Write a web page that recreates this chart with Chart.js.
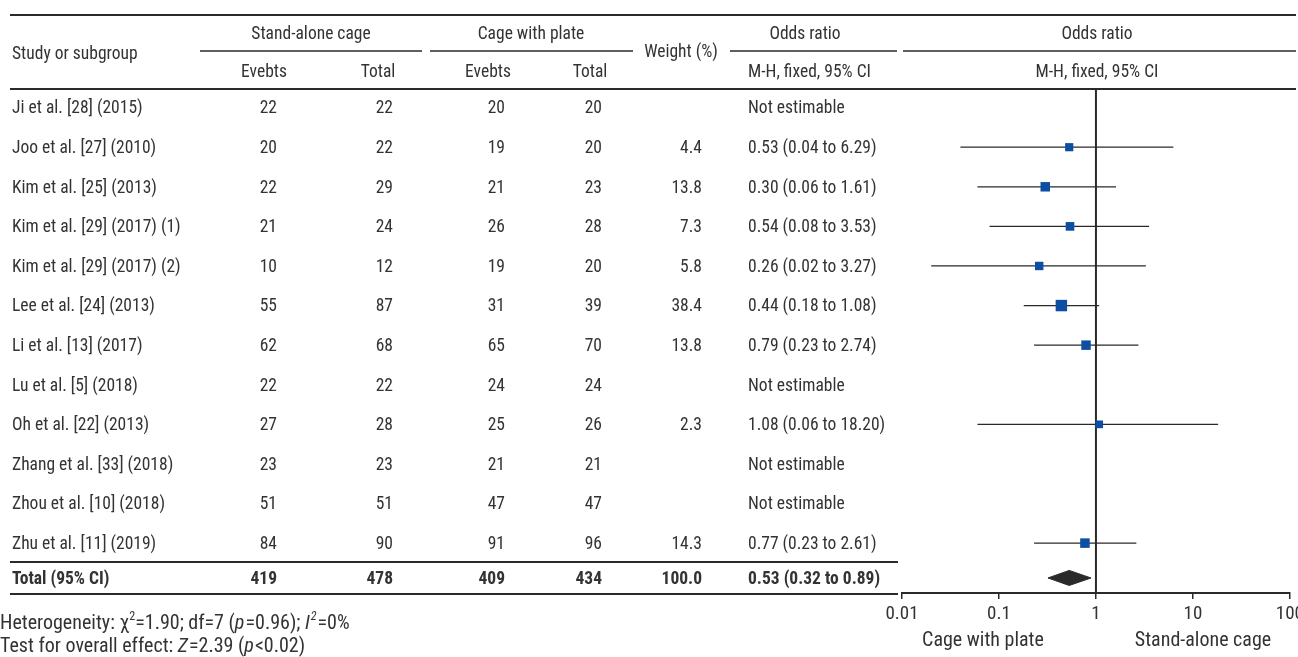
<!DOCTYPE html>
<html>
<head>
<meta charset="utf-8">
<script src="https://cdn.jsdelivr.net/npm/chart.js@4.4.1/dist/chart.umd.min.js"></script>
<style>
  html, body { margin: 0; padding: 0; background: #fff; }
</style>
</head>
<body>
<canvas id="forest" width="1298" height="657"></canvas>
<script>
// Study rows
const studies = [
  'Ji et al. [28] (2015)', 'Joo et al. [27] (2010)', 'Kim et al. [25] (2013)',
  'Kim et al. [29] (2017) (1)', 'Kim et al. [29] (2017) (2)', 'Lee et al. [24] (2013)',
  'Li et al. [13] (2017)', 'Lu et al. [5] (2018)', 'Oh et al. [22] (2013)',
  'Zhang et al. [33] (2018)', 'Zhou et al. [10] (2018)', 'Zhu et al. [11] (2019)'
];
const saEvents = [22, 20, 22, 21, 10, 55, 62, 22, 27, 23, 51, 84];
const saTotal  = [22, 22, 29, 24, 12, 87, 68, 22, 28, 23, 51, 90];
const cpEvents = [20, 19, 21, 26, 19, 31, 65, 24, 25, 21, 47, 91];
const cpTotal  = [20, 20, 23, 28, 20, 39, 70, 24, 26, 21, 47, 96];
const weights  = [null, 4.4, 13.8, 7.3, 5.8, 38.4, 13.8, null, 2.3, null, null, 14.3];
const oddsRatio = [null, 0.53, 0.30, 0.54, 0.26, 0.44, 0.79, null, 1.08, null, null, 0.77];
const ciLow     = [null, 0.04, 0.06, 0.08, 0.02, 0.18, 0.23, null, 0.06, null, null, 0.23];
const ciHigh    = [null, 6.29, 1.61, 3.53, 3.27, 1.08, 2.74, null, 18.20, null, null, 2.61];

// Pooled result
const totalLabel = 'Total (95% CI)';
const totalCounts = [419, 478, 409, 434];
const totalWeight = 100.0;
const totalOR = [0.53, 0.32, 0.89]; // estimate, low, high

// Axis
const tickValues = [0.01, 0.1, 1, 10, 100];
const tickLabels = ['0.01', '0.1', '1', '10', '100'];
const favourLabels = ['Cage with plate', 'Stand-alone cage'];

// layout of the row scale
const Y_MIN = -0.47;
const Y_MAX = 12.26;
const TOTAL_ROW = 11.88;

const FONT = "'Liberation Sans Narrow', 'Roboto Condensed', 'Arial Narrow', Roboto, sans-serif";
const SIZE = 17.5;
const INK = '#2a2a2a';
const TXT = '#333333';
const BLUE = '#0d4ea3';

// CI whiskers as one broken line
const ciData = [];
oddsRatio.forEach((v, i) => {
  if (v === null) return;
  ciData.push({ x: ciLow[i], y: i }, { x: ciHigh[i], y: i }, { x: ciHigh[i], y: null });
});

const squareData = [];
const squareRadius = [];
oddsRatio.forEach((v, i) => {
  if (v === null) return;
  squareData.push({ x: v, y: i });
  const side = 6.5 + 0.8 * Math.sqrt(weights[i]);
  squareRadius.push(side / Math.SQRT2);
});

const dh = 0.19;
const diamondData = [
  { x: totalOR[1], y: TOTAL_ROW },
  { x: totalOR[0], y: TOTAL_ROW - dh },
  { x: totalOR[2], y: TOTAL_ROW },
  { x: totalOR[0], y: TOTAL_ROW + dh },
  { x: totalOR[1], y: TOTAL_ROW }
];

function fmtOR(v, lo, hi) {
  return v.toFixed(2) + ' (' + lo.toFixed(2) + ' to ' + hi.toFixed(2) + ')';
}

// draws the table, rules and footnotes around the plot
const tablePlugin = {
  id: 'table',
  afterDraw(chart) {
    const ctx = chart.ctx;
    const ys = chart.scales.y;
    ctx.save();
    ctx.fillStyle = TXT;
    ctx.strokeStyle = INK;
    ctx.textBaseline = 'middle';

    const text = (s, x, y, align, bold, size) => {
      ctx.font = (bold ? 'bold ' : '') + (size || SIZE) + 'px ' + FONT;
      ctx.textAlign = align || 'left';
      ctx.fillText(s, x, y + 1.5);
    };
    const rule = (x1, x2, y, w) => {
      ctx.lineWidth = w;
      ctx.beginPath();
      ctx.moveTo(x1, y);
      ctx.lineTo(x2, y);
      ctx.stroke();
    };

    // header
    rule(10, 1296, 15, 2);
    text('Study or subgroup', 12, 53);
    text('Stand-alone cage', 311, 33, 'center');
    rule(200, 422, 51, 1.3);
    text('Cage with plate', 531, 33, 'center');
    rule(430, 633, 51, 1.3);
    text('Weight (%)', 681, 51, 'center');
    text('Odds ratio', 805, 33, 'center');
    rule(730, 897, 51, 1.3);
    text('Odds ratio', 1097, 33, 'center');
    rule(903, 1296, 51, 1.3);
    text('Evebts', 264, 71, 'center');
    text('Total', 378, 71, 'center');
    text('Evebts', 488, 71, 'center');
    text('Total', 590, 71, 'center');
    text('M-H, fixed, 95% CI', 748, 71);
    text('M-H, fixed, 95% CI', 1097, 71, 'center');
    rule(10, 1296, 89, 2);

    // study rows
    studies.forEach((name, i) => {
      const y = ys.getPixelForValue(i);
      text(name, 12, y);
      text(String(saEvents[i]), 277, y, 'right');
      text(String(saTotal[i]), 393, y, 'right');
      text(String(cpEvents[i]), 505, y, 'right');
      text(String(cpTotal[i]), 602, y, 'right');
      if (weights[i] !== null) {
        text(weights[i].toFixed(1), 702, y, 'right');
        text(fmtOR(oddsRatio[i], ciLow[i], ciHigh[i]), 748, y);
      } else {
        text('Not estimable', 748, y);
      }
    });

    // total row
    const ty = ys.getPixelForValue(TOTAL_ROW);
    rule(10, 898, 562, 2);
    text(totalLabel, 12, ty, 'left', true);
    text(String(totalCounts[0]), 277, ty, 'right', true);
    text(String(totalCounts[1]), 393, ty, 'right', true);
    text(String(totalCounts[2]), 505, ty, 'right', true);
    text(String(totalCounts[3]), 602, ty, 'right', true);
    text(totalWeight.toFixed(1), 702, ty, 'right', true);
    text(fmtOR(totalOR[0], totalOR[1], totalOR[2]), 748, ty, 'left', true);
    rule(10, 898, 594, 2);

    // favours labels
    text(favourLabels[0], 983, 639, 'center', false, 20);
    text(favourLabels[1], 1203, 639, 'center', false, 20);

    // footnotes with italics and superscripts
    const runs = (parts, x, y) => {
      ctx.textAlign = 'left';
      parts.forEach(p => {
        const size = p.sup ? 12 : 20;
        ctx.font = (p.it ? 'italic ' : '') + size + 'px ' + FONT;
        ctx.fillText(p.t, x, p.sup ? y - 7 : y);
        x += ctx.measureText(p.t).width + (p.it ? 1 : 0);
      });
    };
    runs([
      { t: 'Heterogeneity: ' }, { t: '\u03C7' }, { t: '2', sup: true },
      { t: '=1.90; df=7 (' }, { t: 'p', it: true }, { t: '=0.96); ' },
      { t: 'I', it: true }, { t: '2', sup: true, it: true }, { t: '=0%' }
    ], 0, 624);
    runs([
      { t: 'Test for overall effect: ' }, { t: 'Z', it: true }, { t: '=2.39 (' },
      { t: 'p', it: true }, { t: '<0.02)' }
    ], 0, 647);

    ctx.restore();
  }
};

new Chart(document.getElementById('forest'), {
  type: 'scatter',
  data: {
    datasets: [
      {
        type: 'line',
        data: ciData,
        borderColor: INK,
        borderWidth: 1.3,
        pointRadius: 0,
        spanGaps: false,
        order: 3
      },
      {
        type: 'line',
        data: [{ x: 1, y: Y_MIN }, { x: 1, y: Y_MAX }],
        borderColor: INK,
        borderWidth: 2,
        pointRadius: 0,
        order: 4
      },
      {
        data: squareData,
        pointStyle: 'rect',
        pointRadius: squareRadius,
        backgroundColor: BLUE,
        borderWidth: 0,
        order: 1
      },
      {
        type: 'line',
        data: diamondData,
        borderColor: INK,
        borderWidth: 1,
        backgroundColor: INK,
        fill: 'shape',
        pointRadius: 0,
        tension: 0,
        order: 2
      }
    ]
  },
  options: {
    responsive: false,
    animation: false,
    layout: { padding: { left: 902, right: 5, top: 89, bottom: 4 } },
    plugins: { legend: { display: false }, tooltip: { enabled: false } },
    scales: {
      x: {
        type: 'logarithmic',
        min: 0.01,
        max: 100,
        afterBuildTicks: (scale) => { scale.ticks = tickValues.map(v => ({ value: v })); },
        afterFit: (scale) => { scale.height = 60; scale.paddingLeft = 0; scale.paddingRight = 0; },
        ticks: {
          callback: (v) => tickLabels[tickValues.indexOf(v)],
          color: TXT,
          font: { family: FONT, size: 19 },
          padding: 4,
          maxRotation: 0,
          autoSkip: false
        },
        grid: { drawOnChartArea: false, drawTicks: true, tickLength: 6, color: INK, lineWidth: 1.5 },
        border: { display: true, color: INK, width: 2 }
      },
      y: {
        type: 'linear',
        display: false,
        reverse: true,
        min: Y_MIN,
        max: Y_MAX
      }
    }
  },
  plugins: [tablePlugin]
});
</script>
</body>
</html>
